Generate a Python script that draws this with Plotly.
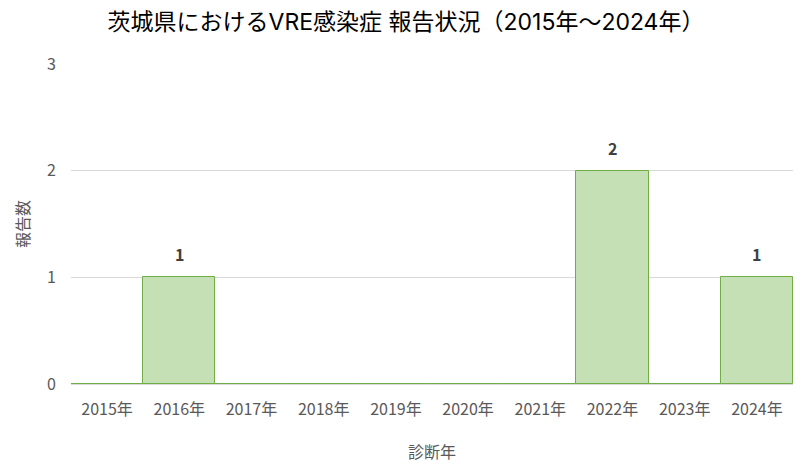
import plotly.graph_objects as go

years = ["2015年", "2016年", "2017年", "2018年", "2019年", "2020年", "2021年", "2022年", "2023年", "2024年"]
counts = [0, 1, 0, 0, 0, 0, 0, 2, 0, 1]

font_family = "Noto Sans CJK JP, Noto Sans, sans-serif"
title_family = "Inter, Noto Sans CJK JP, sans-serif"

W, H = 792, 455  # page body adds an 8px margin

fig = go.Figure(
    go.Bar(
        x=years,
        y=counts,
        marker=dict(color="#C5E0B4", line=dict(color="#70AD47", width=1)),
    )
)

for yr, v in zip(years, counts):
    if v:
        fig.add_annotation(
            x=yr, y=v, text=str(v), showarrow=False,
            yanchor="bottom", yshift=9,
            font=dict(family=font_family, size=16, color="#404040", weight="bold"),
        )

fig.update_layout(
    width=W,
    height=H,
    margin=dict(l=63, r=7, t=56, b=79, autoexpand=False),
    paper_bgcolor="white",
    plot_bgcolor="white",
    bargap=0,
    showlegend=False,
    title=dict(
        text="茨城県におけるVRE感染症 報告状況（2015年〜2024年）",
        x=(406 - 8) / W,
        xanchor="center",
        y=1 - 14 / H,
        yanchor="middle",
        font=dict(family=title_family, size=23, color="#000000"),
    ),
    font=dict(family=font_family, color="#595959"),
)

fig.update_xaxes(
    title=dict(text="診断年", font=dict(size=16, color="#595959"), standoff=33),
    tickfont=dict(size=16, color="#595959"),
    showgrid=False,
    showline=True,
    linecolor="#D9D9D9",
    ticks="",
    ticklabelstandoff=11,
    automargin=False,
)

fig.update_yaxes(
    title=dict(text="報告数", font=dict(size=16, color="#595959"), standoff=13),
    tickfont=dict(size=16, color="#595959"),
    range=[0, 3.002],
    tickvals=[0, 1, 2, 3],
    showgrid=True,
    gridcolor="#D9D9D9",
    zeroline=True,
    zerolinecolor="#D9D9D9",
    ticks="",
    ticklabelstandoff=14,
    automargin=False,
)

fig.write_html("out.html")
